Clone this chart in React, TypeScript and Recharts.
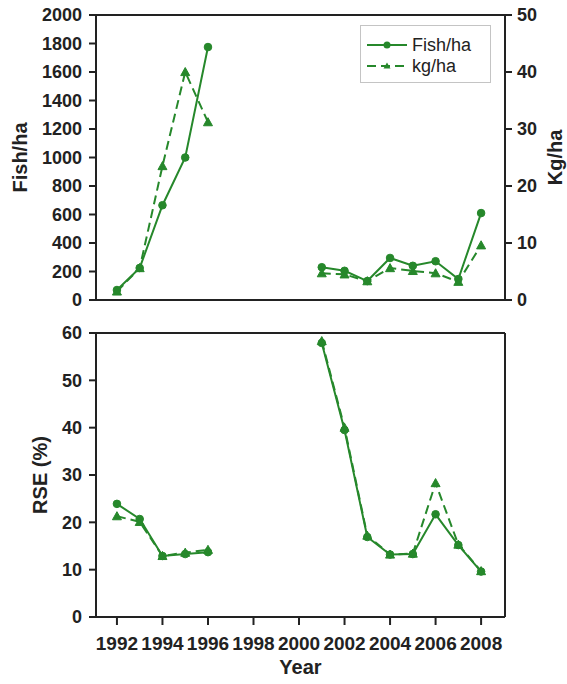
import { LineChart, Line, XAxis, YAxis, Legend, ReferenceLine } from 'recharts';

// year axis and tick values
const years = [1992, 1993, 1994, 1995, 1996, 1997, 1998, 1999, 2000, 2001, 2002, 2003, 2004, 2005, 2006, 2007, 2008];
const yearTicks = [1992, 1994, 1996, 1998, 2000, 2002, 2004, 2006, 2008];
const fishTicks = [0, 200, 400, 600, 800, 1000, 1200, 1400, 1600, 1800, 2000];
const kgTicks = [0, 10, 20, 30, 40, 50];
const rseTicks = [0, 10, 20, 30, 40, 50, 60];

// density estimates (no survey 1997-2000)
const fishPerHa = [70, 225, 665, 1000, 1775, null, null, null, null, 230, 205, 133, 295, 240, 272, 147, 610];
const kgPerHa = [1.5, 5.6, 23.5, 40, 31.2, null, null, null, null, 4.7, 4.5, 3.3, 5.6, 5.1, 4.7, 3.2, 9.6];

// relative standard errors (%)
const fishRse = [23.9, 20.7, 12.9, 13.3, 13.7, null, null, null, null, 57.9, 39.5, 16.9, 13.2, 13.3, 21.7, 15.2, 9.6];
const kgRse = [21.3, 20.1, 12.9, 13.6, 14.2, null, null, null, null, 58.3, 40, 17.2, 13.2, 13.4, 28.3, 15.3, 9.7];

const densityData = years.map((year, i) => ({ year, fish: fishPerHa[i], kg: kgPerHa[i] }));
const rseData = years.map((year, i) => ({ year, fish: fishRse[i], kg: kgRse[i] }));

const GREEN = '#26882b';
const INK = '#222';
const FONT = '"Liberation Sans", Arial, sans-serif';
const X_DOMAIN = [1991.08, 2009.05];

const tickStyle = { fill: INK, fontSize: 18, fontWeight: 'bold', fontFamily: FONT };
const xTickStyle = { ...tickStyle, fontSize: 19 };

// filled circle marker
const CircleDot = (props: any) => {
  const { cx, cy, index } = props;
  if (cx == null || cy == null || props.value == null) return <g key={`c-${index}`} />;
  return <circle key={`c-${index}`} cx={cx} cy={cy} r={3.8} fill={GREEN} stroke={GREEN} />;
};

// filled triangle marker
const TriangleDot = (props: any) => {
  const { cx, cy, index } = props;
  if (cx == null || cy == null || props.value == null) return <g key={`t-${index}`} />;
  const s = 4.5;
  return (
    <path
      key={`t-${index}`}
      d={`M${cx},${cy - s} L${cx + s},${cy + s * 0.8} L${cx - s},${cy + s * 0.8} Z`}
      fill={GREEN}
      stroke={GREEN}
    />
  );
};

// rotated axis title, placed inside the axis box
const yTitle = (text: string, dx: number) => (props: any) => {
  const vb = props.viewBox || {};
  const x = vb.x + dx;
  const y = vb.y + vb.height / 2;
  return (
    <text
      x={x}
      y={y}
      transform={`rotate(-90 ${x} ${y})`}
      textAnchor="middle"
      dominantBaseline="central"
      fill={INK}
      fontSize={20}
      fontWeight="bold"
      fontFamily={FONT}
    >
      {text}
    </text>
  );
};

const yearTitle = (props: any) => {
  const vb = props.viewBox || {};
  return (
    <text
      x={vb.x + vb.width / 2}
      y={vb.y + 50}
      textAnchor="middle"
      dominantBaseline="central"
      fill={INK}
      fontSize={20}
      fontWeight="bold"
      fontFamily={FONT}
    >
      Year
    </text>
  );
};

const LegendBox = () => (
  <div
    style={{
      width: 129,
      height: 56,
      border: '1px solid #c4c4c4',
      background: '#fff',
      position: 'relative',
      fontFamily: FONT,
      fontSize: 18,
      color: INK,
    }}
  >
    {[
      { label: 'Fish/ha', dash: undefined, tri: false },
      { label: 'kg/ha', dash: '9 5', tri: true },
    ].map((item, i) => (
      <div
        key={item.label}
        style={{ position: 'absolute', left: 6, top: 8 + i * 21, height: 22, display: 'flex', alignItems: 'center' }}
      >
        <svg width={40} height={12}>
          <line x1={0} y1={6} x2={40} y2={6} stroke={GREEN} strokeWidth={2} strokeDasharray={item.dash} />
          {item.tri ? (
            <path d="M20,2.5 L23.5,8.5 L16.5,8.5 Z" fill={GREEN} />
          ) : (
            <circle cx={20} cy={6} r={3.5} fill={GREEN} />
          )}
        </svg>
        <span style={{ marginLeft: 5, lineHeight: '22px' }}>{item.label}</span>
      </div>
    ))}
  </div>
);

export default function App() {
  return (
    <div style={{ position: 'absolute', left: 0, top: 0, width: 567, height: 684, background: '#fff' }}>
      {/* density panel */}
      <LineChart width={567} height={320} data={densityData} margin={{ top: 15, right: 0, bottom: 0, left: 0 }}>
        <XAxis
          dataKey="year"
          type="number"
          domain={X_DOMAIN}
          ticks={yearTicks}
          allowDataOverflow
          height={20}
          tick={false}
          tickSize={8}
          stroke={INK}
          axisLine={{ stroke: INK, strokeWidth: 2 }}
          tickLine={{ stroke: INK, strokeWidth: 2 }}
        />
        <YAxis
          yAxisId="left"
          domain={[0, 2000]}
          ticks={fishTicks}
          width={96}
          tick={tickStyle}
          tickSize={7}
          tickMargin={7}
          axisLine={{ stroke: INK, strokeWidth: 2 }}
          tickLine={{ stroke: INK, strokeWidth: 2 }}
          label={yTitle('Fish/ha', 20)}
        />
        <YAxis
          yAxisId="right"
          orientation="right"
          domain={[0, 50]}
          ticks={kgTicks}
          width={62}
          tick={tickStyle}
          tickSize={7}
          tickMargin={5}
          axisLine={{ stroke: INK, strokeWidth: 2 }}
          tickLine={{ stroke: INK, strokeWidth: 2 }}
          label={yTitle('Kg/ha', 50)}
        />
        <ReferenceLine yAxisId="left" y={2000} stroke={INK} strokeWidth={2} />
        <Legend
          layout="vertical"
          align="center"
          verticalAlign="middle"
          content={<LegendBox />}
          wrapperStyle={{ left: 360, top: 25, width: 131, height: 58 }}
        />
        <Line
          yAxisId="left"
          dataKey="fish"
          name="Fish/ha"
          stroke={GREEN}
          strokeWidth={2}
          dot={CircleDot}
          activeDot={false}
          isAnimationActive={false}
        />
        <Line
          yAxisId="right"
          dataKey="kg"
          name="kg/ha"
          stroke={GREEN}
          strokeWidth={2}
          strokeDasharray="9 5"
          dot={TriangleDot}
          activeDot={false}
          isAnimationActive={false}
        />
      </LineChart>

      {/* RSE panel */}
      <div style={{ position: 'absolute', left: 0, top: 320 }}>
        <LineChart width={567} height={364} data={rseData} margin={{ top: 13, right: 0, bottom: 0, left: 0 }}>
          <XAxis
            dataKey="year"
            type="number"
            domain={X_DOMAIN}
            ticks={yearTicks}
            allowDataOverflow
            height={67}
            tick={xTickStyle}
            tickSize={8}
            tickMargin={12}
            axisLine={{ stroke: INK, strokeWidth: 2 }}
            tickLine={{ stroke: INK, strokeWidth: 2 }}
            label={yearTitle}
          />
          <YAxis
            yAxisId="left"
            domain={[0, 60]}
            ticks={rseTicks}
            width={96}
            tick={tickStyle}
            tickSize={7}
            tickMargin={7}
            axisLine={{ stroke: INK, strokeWidth: 2 }}
            tickLine={{ stroke: INK, strokeWidth: 2 }}
            label={yTitle('RSE (%)', 40)}
          />
          <YAxis
            yAxisId="right"
            orientation="right"
            domain={[0, 60]}
            width={62}
            tick={false}
            tickLine={false}
            axisLine={{ stroke: INK, strokeWidth: 2 }}
          />
          <ReferenceLine yAxisId="left" y={60} stroke={INK} strokeWidth={2} />
          <Line
            yAxisId="left"
            dataKey="fish"
            stroke={GREEN}
            strokeWidth={2}
            dot={CircleDot}
            activeDot={false}
            isAnimationActive={false}
          />
          <Line
            yAxisId="left"
            dataKey="kg"
            stroke={GREEN}
            strokeWidth={2}
            strokeDasharray="9 5"
            dot={TriangleDot}
            activeDot={false}
            isAnimationActive={false}
          />
        </LineChart>
      </div>
    </div>
  );
}
